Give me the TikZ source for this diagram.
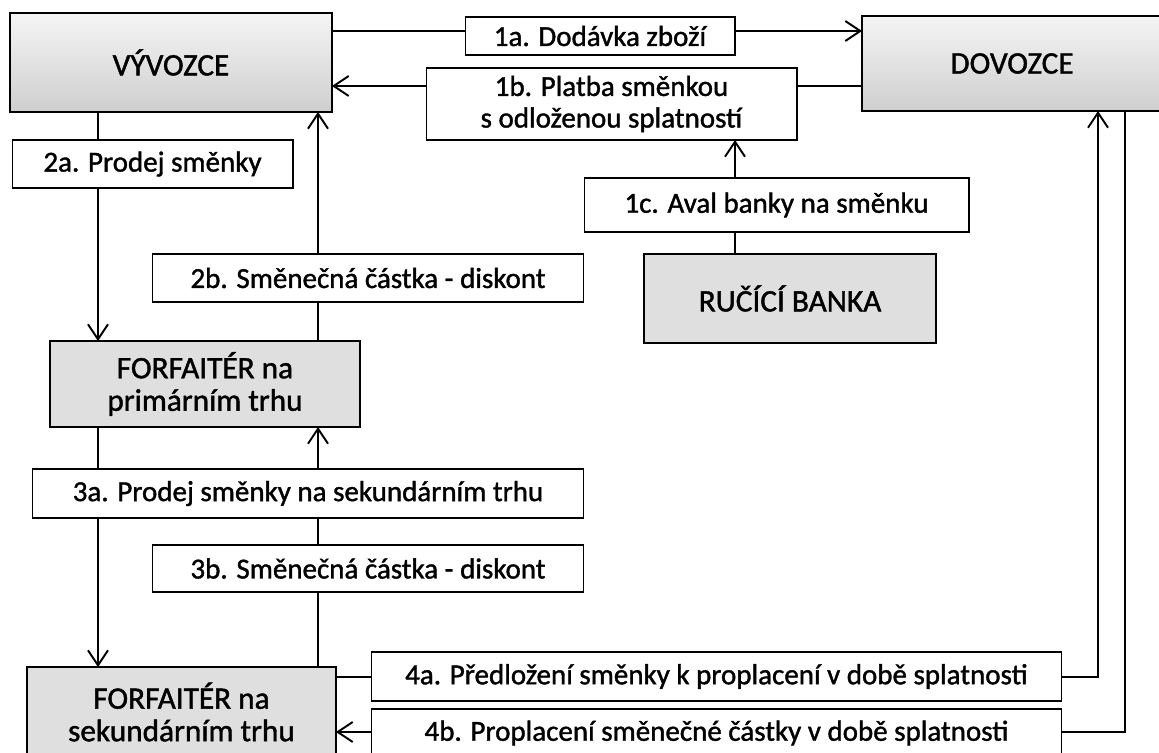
\documentclass[tikz,border=0pt]{standalone}
\usepackage{fontspec}
\setmainfont{Carlito}[FakeBold=1.3]
\usetikzlibrary{arrows.meta}

\begin{document}
\begin{tikzpicture}[x=0.02cm, y=-0.02cm,
    every node/.style={inner sep=0pt, outer sep=0pt, align=center,
        font=\fontsize{16.5}{18}\selectfont},
    strana/.style={draw, line width=1pt, top color=gray!8, bottom color=gray!38,
        font=\fontsize{17.8}{19}\selectfont},
    ustav/.style={draw, line width=1pt, fill=gray!25,
        font=\fontsize{17.8}{18.5}\selectfont},
    popis/.style={draw, line width=0.6pt, fill=white},
    spoj/.style={line width=1.1pt},
    >={Straight Barb[length=3mm, width=4mm, line width=1.1pt]}
]
    \useasboundingbox (0,0) rectangle (1159,753);
    % smluvni strany
    \node[strana, minimum width=6.44cm, minimum height=1.98cm] (vyv) at (171,62.5) {VÝVOZCE};
    \node[strana, minimum width=6cm, minimum height=1.9cm] (dov) at (1012,63.5) {\raisebox{-0.1cm}{DOVOZCE}};
    \node[ustav, minimum width=5.84cm, minimum height=1.78cm] (banka) at (790,298.5) {\raisebox{-0.08cm}{RUČÍCÍ BANKA}};
    \node[ustav, minimum width=6.2cm, minimum height=1.72cm] (fprim) at (205,384) {FORFAITÉR na\\primárním trhu};
    \node[ustav, minimum width=6.18cm, minimum height=1.8cm] (fsek) at (181.5,712) {FORFAITÉR na\\sekundárním trhu};
    % popisky toku
    \node[popis, minimum width=5.4cm, minimum height=0.76cm] (l1a) at (600,36) {1a. Dodávka zboží};
    \node[popis, minimum width=7.42cm, minimum height=1.44cm] (l1b) at (611.5,104) {1b. Platba směnkou\\s odloženou splatností};
    \node[popis, minimum width=7.7cm, minimum height=1.08cm] (l1c) at (776.5,205) {1c. Aval banky na směnku};
    \node[popis, minimum width=5.62cm, minimum height=0.96cm] (l2a) at (152.5,164) {2a. Prodej směnky};
    \node[popis, minimum width=8.64cm, minimum height=0.96cm] (l2b) at (368,278) {2b. Směnečná částka - diskont};
    \node[popis, minimum width=11.04cm, minimum height=0.98cm] (l3a) at (308,493.5) {3a. Prodej směnky na sekundárním trhu};
    \node[popis, minimum width=8.64cm, minimum height=0.94cm] (l3b) at (368,568.5) {3b. Směnečná částka - diskont};
    \node[popis, minimum width=13.82cm, minimum height=0.98cm] (l4a) at (716.5,676.5) {4a. Předložení směnky k proplacení v době splatnosti};
    \node[popis, minimum width=13.82cm, minimum height=0.96cm] (l4b) at (716.5,733) {4b. Proplacení směnečné částky v době splatnosti};
    % vodici souradnice
    \coordinate (sL) at (98,0);
    \coordinate (sR) at (318,0);
    \coordinate (sB) at (735,0);
    \coordinate (r1) at (1098,0);
    \coordinate (r2) at (1125,0);
    \coordinate (h1) at (0,31);
    \coordinate (h2) at (0,86);
    \coordinate (h4a) at (0,677);
    \coordinate (h4b) at (0,732);
    % 1
    \draw[spoj] (vyv.east |- h1) -- (l1a.west |- h1);
    \draw[spoj,->] (l1a.east |- h1) -- (dov.west |- h1);
    \draw[spoj] (dov.west |- h2) -- (l1b.east |- h2);
    \draw[spoj,->] (l1b.west |- h2) -- (vyv.east |- h2);
    \draw[spoj] (banka.north -| sB) -- (l1c.south -| sB);
    \draw[spoj,->] (l1c.north -| sB) -- (l1b.south -| sB);
    % 2
    \draw[spoj] (vyv.south -| sL) -- (l2a.north -| sL);
    \draw[spoj,->] (l2a.south -| sL) -- (fprim.north -| sL);
    \draw[spoj] (fprim.north -| sR) -- (l2b.south -| sR);
    \draw[spoj,->] (l2b.north -| sR) -- (vyv.south -| sR);
    % 3
    \draw[spoj] (fprim.south -| sL) -- (l3a.north -| sL);
    \draw[spoj,->] (l3a.south -| sL) -- (fsek.north -| sL);
    \draw[spoj] (fsek.north -| sR) -- (l3b.south -| sR);
    \draw[spoj] (l3b.north -| sR) -- (l3a.south -| sR);
    \draw[spoj,->] (l3a.north -| sR) -- (fprim.south -| sR);
    % 4
    \draw[spoj] (fsek.east |- h4a) -- (l4a.west |- h4a);
    \draw[spoj,->] (l4a.east |- h4a) -| (dov.south -| r1);
    \draw[spoj] (dov.south -| r2) |- (l4b.east |- h4b);
    \draw[spoj,->] (l4b.west |- h4b) -- (fsek.east |- h4b);
\end{tikzpicture}
\end{document}
